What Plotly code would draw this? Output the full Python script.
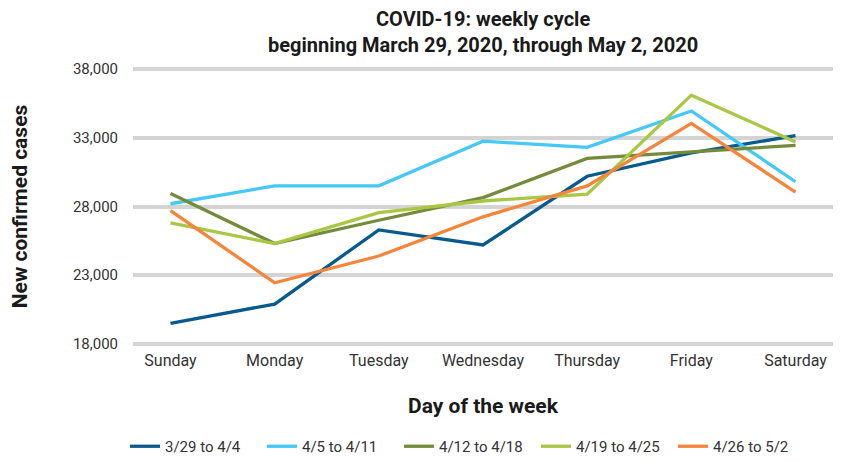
import plotly.graph_objects as go

days = ["Sunday", "Monday", "Tuesday", "Wednesday", "Thursday", "Friday", "Saturday"]
week_labels = ["3/29 to 4/4", "4/5 to 4/11", "4/12 to 4/18", "4/19 to 4/25", "4/26 to 5/2"]
wk1 = [19500, 20900, 26300, 25200, 30200, 31900, 33150]
wk2 = [28200, 29500, 29500, 32750, 32300, 34950, 29800]
wk3 = [28950, 25300, 27000, 28650, 31500, 31950, 32450]
wk4 = [26800, 25300, 27550, 28400, 28900, 36100, 32700]
wk5 = [27700, 22450, 24400, 27250, 29500, 34050, 29050]
y_ticks = [18000, 23000, 28000, 33000, 38000]
title_lines = ["COVID-19: weekly cycle", "beginning March 29, 2020, through May 2, 2020"]

colors = ["#075b8c", "#45c8f5", "#768a3b", "#a9c745", "#f5853a"]
series = [wk1, wk2, wk3, wk4, wk5]

FONT = "Roboto"
W, H = 834, 455
L, R, T, B = 125, 9, 59, 117
plot_h = H - T - B

fig = go.Figure()
for name, vals, c in zip(week_labels, series, colors):
    fig.add_trace(go.Scatter(x=days, y=vals, mode="lines", name=name,
                             line=dict(color=c, width=3.3)))

for line, py in zip(title_lines, [11, 37]):
    fig.add_annotation(text="<b>%s</b>" % line, xref="paper", yref="paper",
                       x=0.5, y=(H - B - py) / plot_h, xanchor="center", yanchor="middle",
                       showarrow=False, borderpad=0,
                       font=dict(family=FONT, size=20, color="#1a1a1a"))

fig.update_layout(
    width=W, height=H,
    paper_bgcolor="white", plot_bgcolor="white",
    margin=dict(l=L, r=R, t=T, b=B, autoexpand=False),
    font=dict(family=FONT, size=15, color="#333333"),
    showlegend=True,
    legend=dict(orientation="h", x=117 / W, xanchor="left", xref="container",
                y=-0.018, yref="container", yanchor="bottom",
                font=dict(family=FONT, size=15, color="#333333"),
                itemwidth=30, entrywidth=92, entrywidthmode="pixels", tracegroupgap=0),
)
fig.update_xaxes(
    type="category", range=[-0.36, 6.36], showgrid=False, showline=False, zeroline=False,
    ticks="", tickfont=dict(size=16, color="#333333"), ticklabelstandoff=3,
    title=dict(text="<b>Day of the week</b>", font=dict(size=21, color="#1a1a1a"), standoff=29),
)
fig.update_yaxes(
    range=[17850, 38150], tickvals=y_ticks, tickformat=",", showgrid=True,
    gridcolor="#d4d4d4", gridwidth=4, zeroline=False, showline=False, ticks="",
    ticklabelstandoff=14, tickfont=dict(size=15, color="#333333"),
    title=dict(text="<b>New confirmed cases</b>", font=dict(size=21, color="#1a1a1a"), standoff=40),
)
fig.write_html("out.html")
